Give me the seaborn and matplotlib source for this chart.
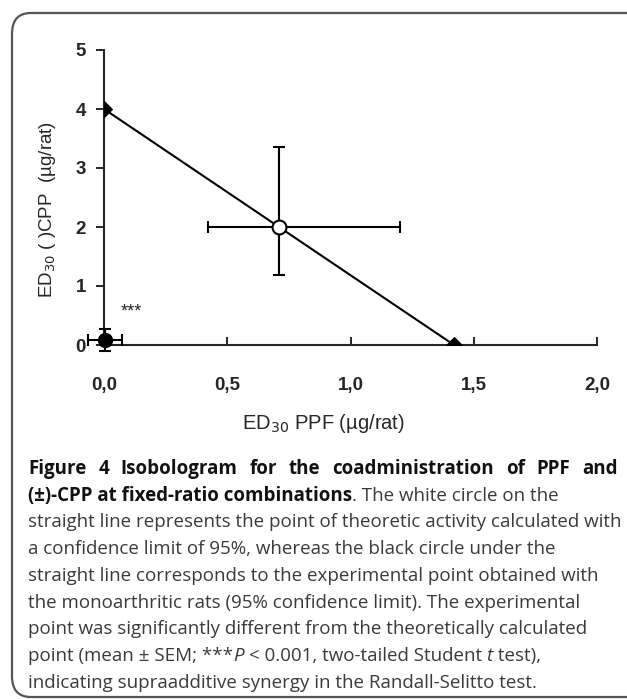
import numpy as np
import pandas as pd
import seaborn as sns
import matplotlib.pyplot as plt
from matplotlib.patches import FancyBboxPatch

# isobole (additivity line) between the two single-drug ED30 values
isobole_x = [0.0, 1.42]
isobole_y = [4.0, 0.0]

# theoretical point (white circle) with 95% limits
theo_x, theo_y = 0.71, 2.0
theo_xerr = [[0.29], [0.49]]
theo_yerr = [[0.81], [1.36]]

# experimental point (black circle)
exp_x, exp_y = 0.005, 0.085
exp_xerr = [[0.07], [0.07]]
exp_yerr = [[0.19], [0.19]]

x_ticks = [0.0, 0.5, 1.0, 1.5, 2.0]
x_ticklabels = ["0,0", "0,5", "1,0", "1,5", "2,0"]
y_ticks = [0, 1, 2, 3, 4, 5]

caption_lines = [
    [("Figure 4 Isobologram for the coadministration of PPF and", "bold")],
    [("(\u00b1)-CPP at fixed-ratio combinations", "bold"), (". The white circle on the", "normal")],
    [("straight line represents the point of theoretic activity calculated with", "normal")],
    [("a confidence limit of 95%, whereas the black circle under the", "normal")],
    [("straight line corresponds to the experimental point obtained with", "normal")],
    [("the monoarthritic rats (95% confidence limit). The experimental", "normal")],
    [("point was significantly different from the theoretically calculated", "normal")],
    [("point (mean \u00b1 SEM; ***", "normal"), ("P", "italic"), (" < 0.001, two-tailed Student ", "normal"),
     ("t", "italic"), (" test),", "normal")],
    [("indicating supraadditive synergy in the Randall-Selitto test.", "normal")],
]

sns.set_style("ticks")
narrow = ["Liberation Sans Narrow", "Liberation Sans", "DejaVu Sans"]
plt.rcParams["font.family"] = narrow

W, H = 627, 699
fig = plt.figure(figsize=(W / 100, H / 100), dpi=100)

# rounded frame around the figure panel
frame = FancyBboxPatch((12 / W, 2 / H), (W + 20) / W, (H - 15) / H,
                       boxstyle="round,pad=0,rounding_size=0.03",
                       transform=fig.transFigure, fill=False,
                       edgecolor="#555555", linewidth=1.6, clip_on=False)
fig.patches.append(frame)

ax = fig.add_axes([104 / W, 1 - 345 / H, (597 - 104) / W, (345 - 50) / H])

df = pd.DataFrame({"x": isobole_x, "y": isobole_y})
sns.lineplot(data=df, x="x", y="y", ax=ax, color="black", linewidth=1.5,
             marker="D", markersize=8, markeredgecolor="black", zorder=3)

ax.errorbar(theo_x, theo_y, xerr=theo_xerr, yerr=theo_yerr, fmt="o",
            color="black", mfc="white", mec="black", ms=10, mew=1.5,
            elinewidth=1.5, capsize=4, capthick=1.5, zorder=4, clip_on=False)
ax.errorbar(exp_x, exp_y, xerr=exp_xerr, yerr=exp_yerr, fmt="o",
            color="black", ms=10, elinewidth=1.5, capsize=4, capthick=1.5,
            zorder=4, clip_on=False)

ax.text(0.11, 0.56, "***", fontsize=13, ha="center", va="center")

ax.set_xlim(0, 2.0)
ax.set_ylim(0, 5)
ax.set_xticks(x_ticks)
ax.set_xticklabels(x_ticklabels)
ax.set_yticks(y_ticks)
for lab in ax.get_xticklabels() + ax.get_yticklabels():
    lab.set_fontweight("bold")
    lab.set_fontsize(13.5)
ax.tick_params(axis="x", direction="in", length=6, width=1.4, pad=23)
ax.tick_params(axis="y", direction="out", length=6, width=1.4, pad=7)
sns.despine(ax=ax)
for s in ["left", "bottom"]:
    ax.spines[s].set_linewidth(1.5)

ax.set_xlabel("ED$_{30}$ PPF (\u00b5g/rat)", fontsize=14.5)
ax.xaxis.set_label_coords(0.446, -0.228)
ax.set_ylabel("ED$_{30}$ ( )CPP  (\u00b5g/rat)", fontsize=13.5)
ax.yaxis.set_label_coords(-0.093, 0.46)

# caption, drawn segment by segment so bold / italic parts sit inline
cap_font = ["Open Sans", "DejaVu Sans"]
renderer = fig.canvas.get_renderer()
left, right = 28, 618
y0 = 1 - 474 / H
dy = 26.7 / H
for i, line in enumerate(caption_lines):
    base = y0 - i * dy
    if i == 0:
        # first line is justified in the reference
        words = line[0][0].split(" ")
        kw = dict(fontsize=13.5, family=cap_font, color="#111111", fontweight="bold",
                  va="baseline", ha="left")
        widths = []
        arts = []
        for w_ in words:
            t = fig.text(0, base, w_, **kw)
            widths.append(t.get_window_extent(renderer=renderer).width)
            arts.append(t)
        gap = (right - left - sum(widths)) / (len(words) - 1)
        x = left
        for t, wd in zip(arts, widths):
            t.set_x(x / W)
            x += wd + gap
        continue
    x = left / W
    for txt, style in line:
        kw = dict(fontsize=13.5, family=cap_font, color="#111111" if style == "bold" else "#3a3a3a",
                  va="baseline", ha="left")
        if style == "bold":
            kw["fontweight"] = "bold"
        if style == "italic":
            kw["fontstyle"] = "italic"
        t = fig.text(x, base, txt, **kw)
        bb = t.get_window_extent(renderer=renderer)
        x += bb.width / W

fig.savefig("out.png", dpi=100)
